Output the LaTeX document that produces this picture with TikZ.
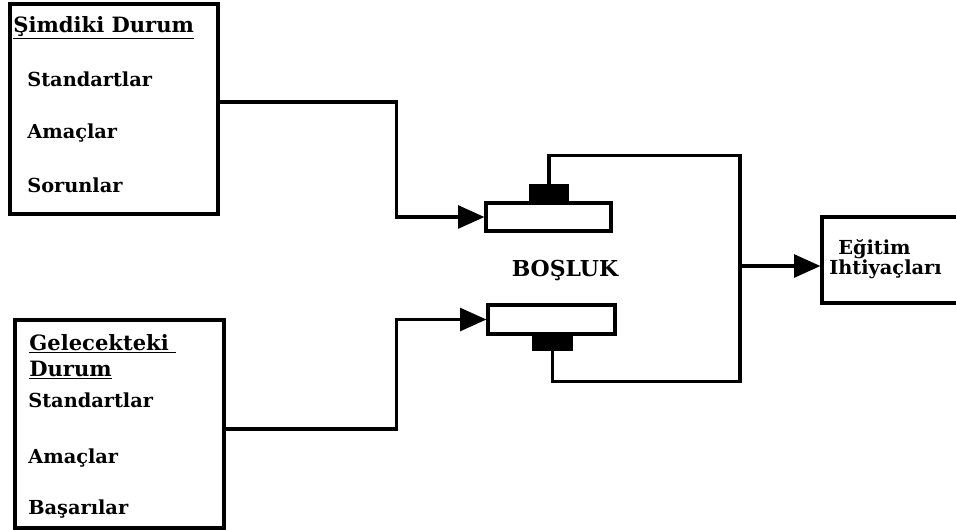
\documentclass[tikz,border=0pt]{standalone}
\usepackage{fontspec}
\setmainfont{DejaVu Serif}
\usetikzlibrary{arrows.meta}

\tikzset{
  kutu/.style={draw, line width=1.8pt, inner sep=0pt},
  yazi/.style={anchor=base west, inner sep=0pt, font=\fontsize{11}{13}\bfseries\selectfont},
  baslik/.style={yazi, font=\fontsize{12}{14}\bfseries\selectfont},
  kapak/.style={draw, fill=black, line width=0.6pt, inner sep=0pt},
  hat/.style={line width=1.8pt},
  ok/.style={line width=1.8pt, -{Triangle[length=15pt,width=13pt]}}
}

\begin{document}
\begin{tikzpicture}[x=0.02cm, y=-0.02cm]
    \useasboundingbox (0,0) rectangle (956,529);

    % Simdiki durum
    \node[kutu, minimum width=4.16cm, minimum height=4.2cm] (simdiki) at (114,109) {};
    \node[baslik] (s1) at (13,32) {\underline{Şimdiki Durum}};
    \node[yazi] (s2) at (27,86) {Standartlar};
    \node[yazi] (s3) at (27,138) {Amaçlar};
    \node[yazi] (s4) at (27,192) {Sorunlar};

    % Gelecekteki durum
    \node[kutu, minimum width=4.18cm, minimum height=4.16cm] (gelecek) at (119.5,424) {};
    \node[baslik] (g1) at (29,350) {\underline{Gelecekteki\hspace{4pt}}};
    \node[baslik] (g2) at (29,376) {\underline{Durum}};
    \node[yazi] (g3) at (28,407) {Standartlar};
    \node[yazi] (g4) at (28,463) {Amaçlar};
    \node[yazi] (g5) at (28,514) {Başarılar};

    % Bosluk
    \node[kutu, minimum width=2.5cm, minimum height=0.56cm] (ust) at (548.5,217) {};
    \node[kapak, minimum width=0.76cm, minimum height=0.36cm] (ustkapak) at (549,194) {};
    \node[kutu, minimum width=2.54cm, minimum height=0.58cm] (alt) at (551.5,319.5) {};
    \node[kapak, minimum width=0.78cm, minimum height=0.32cm] (altkapak) at (552.5,342) {};
    \node[inner sep=0pt, font=\fontsize{12.5}{14}\bfseries\selectfont] (bosluk) at (565,270) {BOŞLUK};

    % Egitim ihtiyaclari
    \node[kutu, minimum width=2.8cm, minimum height=1.72cm] (egitim) at (892,260) {};
    \node[yazi, font=\fontsize{11}{13}\bfseries\selectfont] (e1) at (838,254) {Eğitim};
    \node[yazi, font=\fontsize{11}{13}\bfseries\selectfont] (e2) at (829,274) {Ihtiyaçları};
    \coordinate (cikis) at (738,266);

    % Oklar
    \draw[ok] ([yshift=0.14cm]simdiki.east) -- ++(177,0) |- (ust.west);
    \draw[ok] ([yshift=-0.1cm]gelecek.east) -- ++(171,0) |- (alt.west);
    \draw[hat] (ustkapak.north) -- ++(0,-29) -| ++(191,226) -| (altkapak.south);
    \draw[ok] (cikis) -- (cikis -| egitim.west);
\end{tikzpicture}
\end{document}
